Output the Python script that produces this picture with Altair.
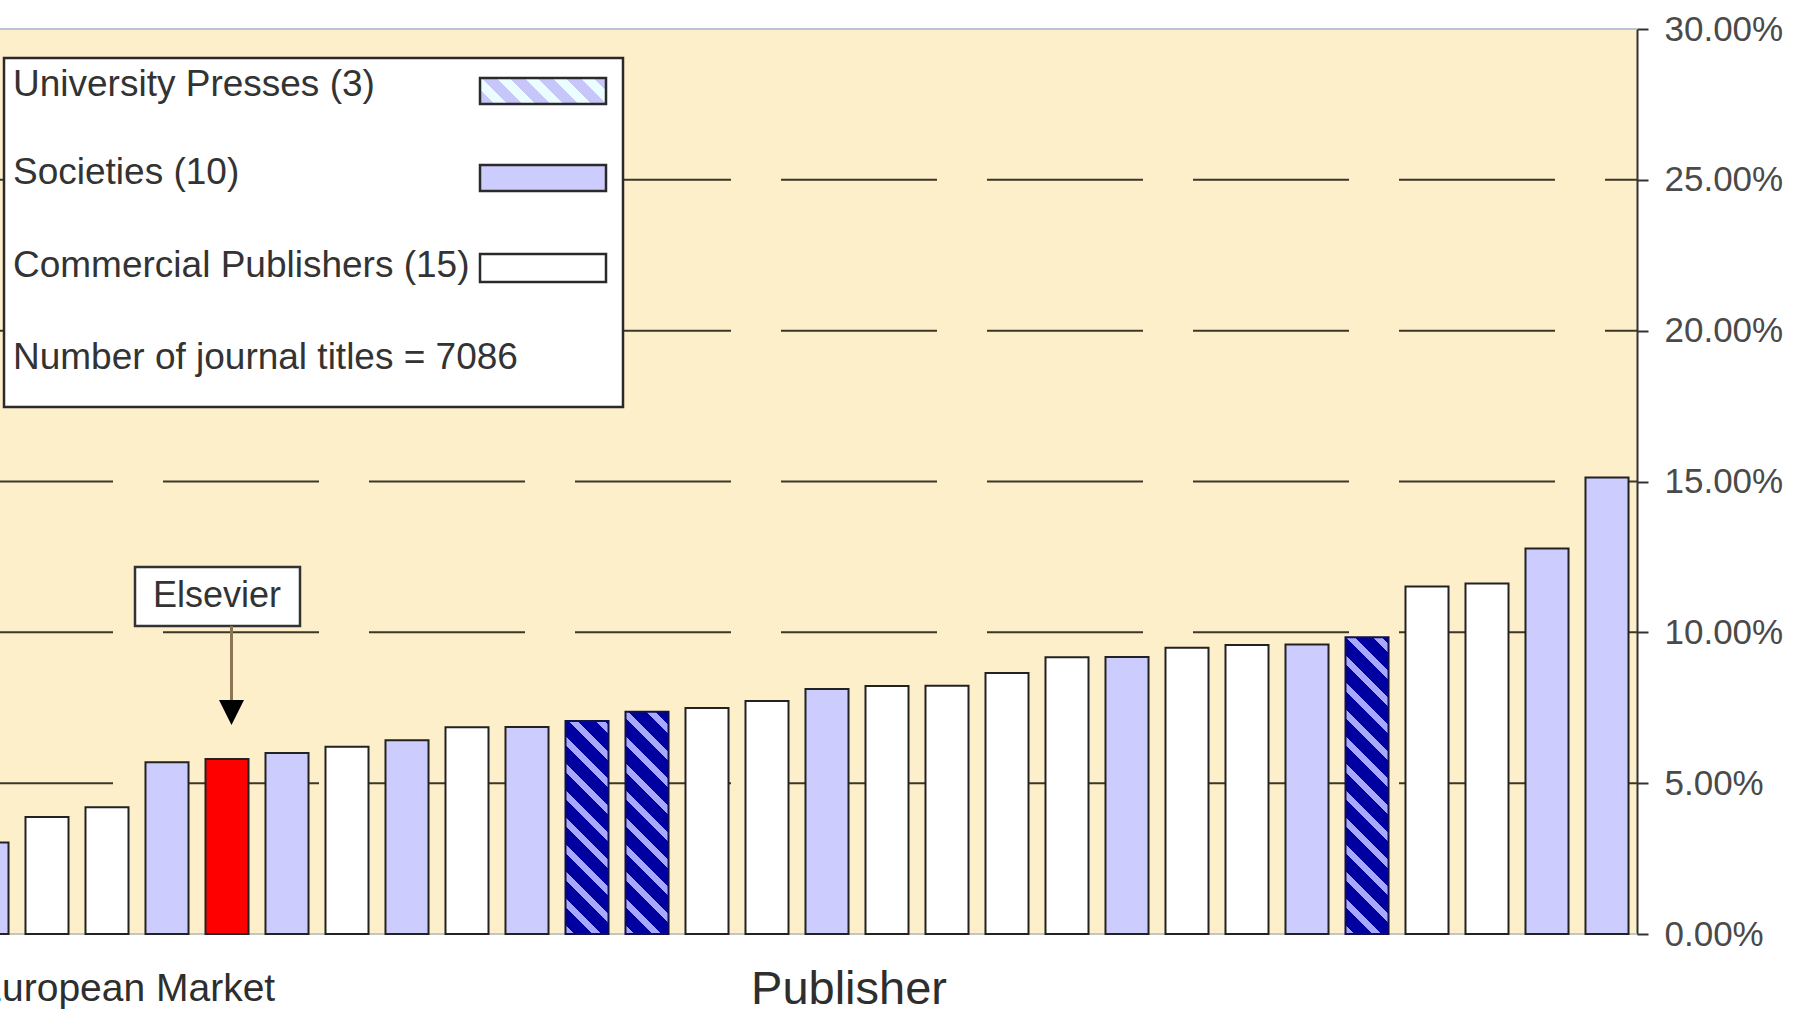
import altair as alt
import pandas as pd

# Publishers ranked by their share of journal titles (percent)
ranks = list(range(1, 29))
share_pct = [3.03, 3.88, 4.20, 5.69, 5.80, 6.00, 6.21, 6.42, 6.85, 6.86,
             7.06, 7.37, 7.49, 7.72, 8.12, 8.22, 8.23, 8.65, 9.17, 9.18,
             9.49, 9.58, 9.60, 9.84, 11.52, 11.62, 12.78, 15.13]
publisher_group = [
    "Society", "Commercial", "Commercial", "Society", "Commercial",
    "Society", "Commercial", "Society", "Commercial", "Society",
    "University Press", "University Press", "Commercial", "Commercial", "Society",
    "Commercial", "Commercial", "Commercial", "Commercial", "Society",
    "Commercial", "Commercial", "Society", "University Press", "Commercial",
    "Commercial", "Society", "Society",
]
elsevier_rank = 5
journal_titles = 7086

group_order = ["Society", "Commercial", "Elsevier"]
group_colors = ["#CCCCFF", "#FFFFFF", "#FF0000"]
grid_levels = [5, 10, 15, 20, 25]
tick_values = [0, 5, 10, 15, 20, 25, 30]

FONT = "Liberation Sans, Arial, Helvetica, sans-serif"
W, H = 1680, 905          # plot area
Y_MAX = 30
LEFT, TOP = -43, 29       # plot origin on the page (first band runs off the left edge)
PAD_INNER = 0.283
STEP = W / len(ranks)
BAR_W = STEP * (1 - PAD_INNER)
OUTLINE = "#222222"

n_up = publisher_group.count("University Press")
n_soc = publisher_group.count("Society")
n_com = publisher_group.count("Commercial")

df = pd.DataFrame({"rank": ranks, "share": share_pct, "group": publisher_group})
df["fill_group"] = ["Elsevier" if r == elsevier_rank else g
                    for r, g in zip(ranks, publisher_group)]

x_enc = alt.X("rank:O", axis=None,
              scale=alt.Scale(domain=ranks, paddingInner=PAD_INNER,
                              paddingOuter=PAD_INNER / 2))
y_scale = alt.Scale(domain=[0, Y_MAX], nice=False)

y_axis = alt.Axis(
    orient="right", values=tick_values, title=None, grid=False,
    labelExpr="format(datum.value / 100, '.2%')",
    domainColor="#333333", domainWidth=2, tickColor="#333333", tickWidth=2,
    tickSize=11, labelFont=FONT, labelFontSize=35, labelColor="#4a4a4a",
    labelPadding=16, labelFlush=False, labelOverlap=False)


def y_enc(field):
    return alt.Y(field, scale=y_scale, axis=y_axis)


def px(page_x):
    return page_x - LEFT


def py(page_y):
    return page_y - TOP


def hatch(w, h, period, frac, base, stripe):
    """45-degree stripes (running down-right) as a linear gradient in bbox units."""
    span = w + h
    c = span / (w * w + h * h)

    def t(u):
        return round(min(max((u + h) / span, 0.0), 1.0), 5)

    stops = [alt.GradientStop(offset=0.0, color=base)]
    u = -h - period
    while u < w:
        a, b = u, u + frac * period
        if b > -h:
            stops += [alt.GradientStop(offset=t(a), color=base),
                      alt.GradientStop(offset=t(a), color=stripe),
                      alt.GradientStop(offset=t(b), color=stripe),
                      alt.GradientStop(offset=t(b), color=base)]
        u += period
    stops.append(alt.GradientStop(offset=1.0, color=base))
    return alt.LinearGradient(gradient="linear", stops=stops,
                              x1=0, y1=1, x2=c * w, y2=1 - c * h)


one = pd.DataFrame({"n": [0]})


def box(x0, y0, x1, y1, fill, stroke="#2a2a2a", sw=2.5):
    return alt.Chart(one).mark_rect(fill=fill, stroke=stroke, strokeWidth=sw).encode(
        x=alt.value(px(x0)), x2=alt.value(px(x1)),
        y=alt.value(py(y0)), y2=alt.value(py(y1)))


def label(txt, x, y, size, align="left", baseline="middle", color="#333333"):
    return alt.Chart(one).mark_text(
        text=txt, align=align, baseline=baseline, font=FONT,
        fontSize=size, color=color).encode(x=alt.value(px(x)), y=alt.value(py(y)))


# dashed horizontal gridlines
grid = alt.Chart(pd.DataFrame({"level": grid_levels})).mark_rule(
    color="#3b3828", strokeWidth=2, strokeDash=[156, 50]).encode(
    y=y_enc("level:Q"), x=alt.value(0), x2=alt.value(W))

top_line = alt.Chart(pd.DataFrame({"level": [Y_MAX]})).mark_rule(
    color="#BEC2D6", strokeWidth=2).encode(
    y=y_enc("level:Q"), x=alt.value(0), x2=alt.value(W))

base_line = alt.Chart(pd.DataFrame({"level": [0]})).mark_rule(
    color="#C4C4C4", strokeWidth=2).encode(
    y=y_enc("level:Q"), x=alt.value(0), x2=alt.value(W))

bars = alt.Chart(df).transform_filter(alt.datum.group != "University Press").mark_bar(
    stroke=OUTLINE, strokeWidth=2).encode(
    x=x_enc,
    y=y_enc("share:Q"),
    fill=alt.Fill("fill_group:N", legend=None,
                  scale=alt.Scale(domain=group_order, range=group_colors)))

# university presses: navy bars with light diagonal hatching
hatched = []
for r, v, g in zip(ranks, share_pct, publisher_group):
    if g != "University Press":
        continue
    grad = hatch(BAR_W, v / Y_MAX * H, 27, 0.33, "#0000A0", "#A8A8FF")
    hatched.append(
        alt.Chart(df).transform_filter(alt.datum.rank == r).mark_bar(
            fill=grad, stroke="#10104a", strokeWidth=2).encode(
            x=x_enc, y=y_enc("share:Q")))

# callout pointing at Elsevier
e_center = LEFT + (ranks.index(elsevier_rank) + 0.5) * STEP
callout = [
    box(e_center - 92, 567, e_center + 73, 626, "white", "#333333", 2.5),
    label("Elsevier", e_center - 10, 596, 36, align="center"),
    alt.Chart(one).mark_rule(color="#8B7556", strokeWidth=3).encode(
        x=alt.value(px(e_center + 4.5)), y=alt.value(py(626)), y2=alt.value(py(702))),
    alt.Chart(one).mark_point(shape="M-1,-1L1,-1L0,1Z", filled=True, fill="black",
                              size=625, strokeWidth=0, opacity=1).encode(
        x=alt.value(px(e_center + 4.5)), y=alt.value(py(712.5))),
]

# legend panel
LEG = 37
legend = [
    box(4, 58, 623, 407, "white", "#2a2a2a", 2.5),
    label(f"University Presses ({n_up})", 13, 85, LEG),
    label(f"Societies ({n_soc})", 13, 173, LEG),
    label(f"Commercial Publishers ({n_com})", 13, 266, LEG),
    label(f"Number of journal titles = {journal_titles}", 13, 358, LEG),
    box(480, 78, 606, 104, hatch(126, 26, 28, 0.5, "#EAFDFF", "#C6C6F8")),
    box(480, 165, 606, 191, "#CCCCFF"),
    box(480, 254, 606, 282, "#FFFFFF"),
]

titles = [
    label("Publisher", 849, 1004, 47, align="center", baseline="alphabetic",
          color="#2e2e2e"),
    label("European Market", -24, 1001, 39, baseline="alphabetic", color="#2e2e2e"),
]

chart = alt.layer(
    grid, top_line, base_line, bars, *hatched, *callout, *legend, *titles
).properties(
    width=W, height=H,
    padding={"left": LEFT, "top": TOP, "right": 1798 - W - LEFT,
             "bottom": 1010 - TOP - H},
    autosize=alt.AutoSizeParams(type="none"),
    background="white",
).configure_view(fill="#FEEFCB", stroke=None)

chart.save("out.html", embed_options={"renderer": "svg", "actions": False})
